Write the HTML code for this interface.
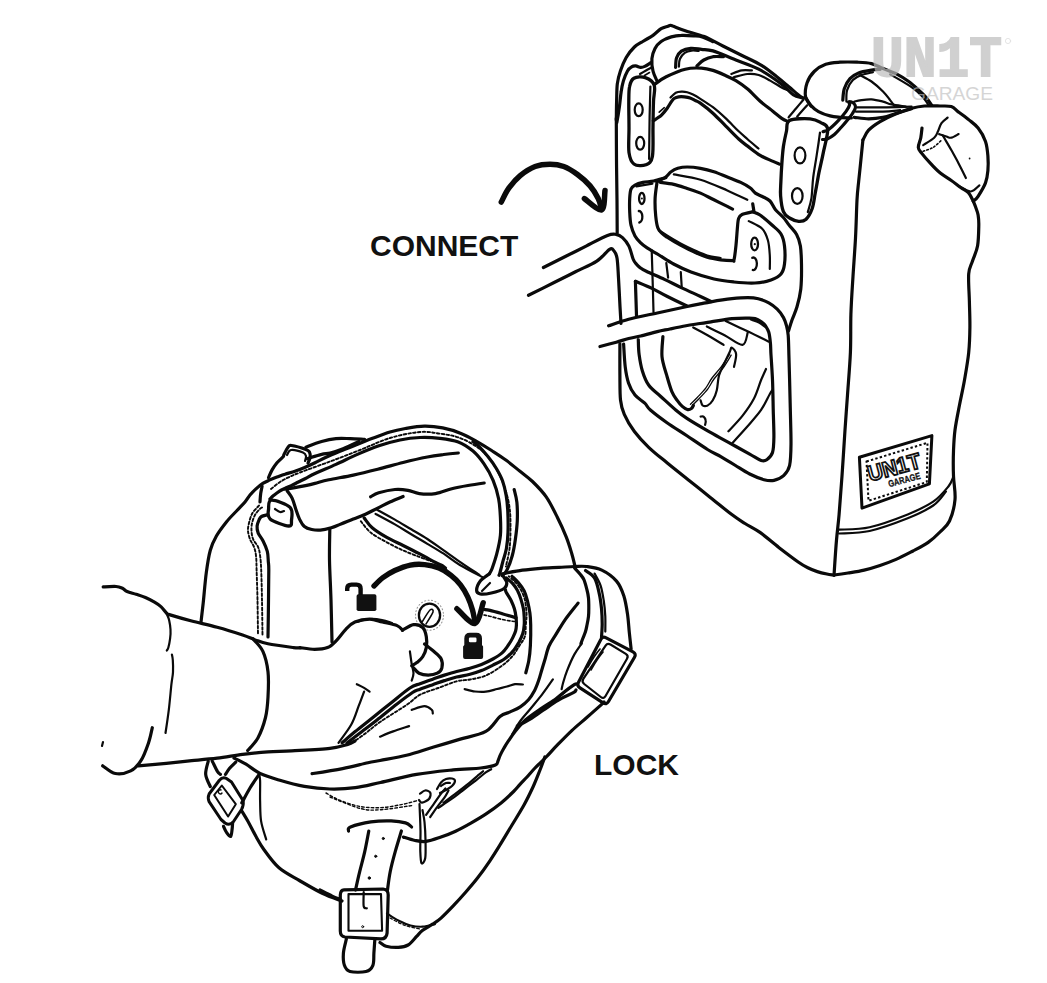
<!DOCTYPE html>
<html><head><meta charset="utf-8">
<style>
html,body{margin:0;padding:0;background:#fff;}
body{width:1047px;height:983px;overflow:hidden;position:relative;font-family:"Liberation Sans",sans-serif;}
svg{position:absolute;left:0;top:0;}
.lbl{position:absolute;font-weight:bold;font-size:30px;color:#111;line-height:1;white-space:nowrap;}
path,circle,ellipse,line,polyline,polygon{fill:none;stroke:#0a0a0a;stroke-linecap:round;stroke-linejoin:round;}
</style></head><body>
<svg width="1047" height="983" viewBox="0 0 1047 983">
<path d="M 616.3 120.0 C 616.4 117.0, 616.4 107.7, 616.6 101.7 C 616.8 95.7, 616.7 89.1, 617.3 83.9 C 618.0 78.8, 618.9 75.4, 620.4 71.0 C 621.9 66.5, 623.9 61.5, 626.2 57.5 C 628.6 53.5, 631.6 49.7, 634.4 47.0 C 637.1 44.4, 639.7 43.4, 642.8 41.5 C 645.9 39.5, 649.9 37.5, 653.0 35.4 C 656.0 33.2, 658.6 30.3, 661.1 28.7 C 663.6 27.2, 666.4 26.8, 668.0 26.2 C 669.5 25.6, 669.4 25.3, 670.2 25.3 C 671.1 25.3, 670.4 25.2, 672.8 26.1 C 675.2 26.9, 679.2 28.8, 684.5 30.5 C 689.7 32.3, 697.8 34.0, 704.3 36.6 C 710.8 39.3, 717.0 43.1, 723.4 46.3 C 729.8 49.5, 736.1 52.5, 742.5 55.7 C 748.8 58.9, 755.8 61.8, 761.5 65.4 C 767.3 68.9, 772.3 73.3, 776.8 76.8 C 781.3 80.3, 784.7 83.3, 788.5 86.5 C 792.3 89.6, 797.2 94.0, 799.7 95.9 C 802.2 97.8, 802.9 97.6, 803.5 97.9" stroke-width="3.20"/>
<path d="M 616.8 122.6 C 617.3 120.0, 618.7 112.0, 619.4 106.8 C 620.1 101.6, 620.5 95.9, 621.2 91.6 C 621.8 87.2, 622.4 84.3, 623.4 80.9 C 624.5 77.4, 626.2 73.3, 627.5 71.0 C 628.9 68.6, 630.2 67.7, 631.6 66.9 C 632.9 66.0, 634.1 65.8, 635.7 65.9 C 637.2 66.0, 639.2 67.3, 640.7 67.4 C 642.3 67.5, 643.1 67.2, 644.8 66.4 C 646.5 65.6, 649.9 63.2, 650.9 62.6" stroke-width="3.20"/>
<path d="M 657.0 80.9 C 656.3 79.2, 653.8 74.6, 653.0 71.0 C 652.1 67.3, 651.6 62.5, 651.9 58.7 C 652.3 55.0, 653.5 51.5, 655.0 48.6 C 656.5 45.7, 658.4 43.4, 661.1 41.5 C 663.8 39.5, 667.9 37.9, 671.3 36.9 C 674.7 35.9, 677.7 35.5, 681.4 35.4 C 685.2 35.2, 690.2 35.6, 693.6 35.9 C 697.1 36.1, 699.1 35.9, 702.3 36.9 C 705.5 37.9, 711.2 40.9, 713.0 41.7" stroke-width="3.20"/>
<path d="M 675.6 67.4 C 675.8 65.8, 675.6 60.4, 676.6 57.7 C 677.6 55.0, 679.1 52.7, 681.4 51.1 C 683.8 49.6, 687.5 48.6, 690.8 48.3 C 694.2 48.0, 697.8 48.9, 701.5 49.3 C 705.2 49.8, 707.2 49.1, 713.0 50.9 C 718.7 52.6, 728.2 57.0, 735.9 60.0 C 743.5 63.1, 751.1 65.1, 758.7 69.2 C 766.4 73.2, 775.9 79.9, 781.6 84.2 C 787.4 88.4, 789.7 92.3, 793.1 94.6 C 796.5 96.9, 800.7 97.4, 802.2 97.9" stroke-width="3.20"/>
<path d="M 678.9 66.6 C 679.1 65.4, 678.9 61.3, 679.9 59.0 C 680.9 56.7, 682.8 54.3, 684.7 52.9 C 686.7 51.5, 689.3 50.9, 691.6 50.6 C 693.9 50.3, 697.5 50.8, 698.7 50.9" stroke-width="2.20"/>
<path d="M 696.9 65.9 C 698.1 64.9, 701.1 61.5, 703.8 60.0 C 706.5 58.5, 709.7 57.3, 713.0 56.7 C 716.2 56.2, 721.7 56.7, 723.4 56.7" stroke-width="3.20"/>
<path d="M 654.5 84.4 C 656.4 83.2, 661.0 79.3, 666.2 76.8 C 671.3 74.3, 679.4 70.6, 685.3 69.2 C 691.1 67.7, 696.9 67.9, 701.5 68.2 C 706.1 68.4, 709.2 69.3, 713.0 70.4 C 716.8 71.6, 720.6 73.3, 724.4 75.0 C 728.2 76.7, 732.0 78.3, 735.9 80.6 C 739.7 82.9, 743.2 85.3, 747.3 88.8 C 751.4 92.2, 755.9 97.4, 760.2 101.2 C 764.5 105.0, 769.5 108.6, 773.1 111.5 C 776.7 114.4, 779.2 116.7, 781.7 118.4 C 784.2 120.1, 786.9 121.0, 788.0 121.5" stroke-width="3.20"/>
<path d="M 731.3 74.0 C 733.0 73.4, 738.3 71.0, 741.7 70.4 C 745.1 69.9, 750.2 70.4, 751.9 70.4" stroke-width="2.20"/>
<path d="M 733.6 77.3 C 735.9 76.8, 743.1 74.4, 747.3 74.0 C 751.5 73.6, 754.9 73.9, 758.7 75.0 C 762.6 76.1, 766.4 78.5, 770.2 80.6 C 774.0 82.7, 778.8 85.9, 781.6 87.5 C 784.5 89.1, 786.5 89.6, 787.5 90.0" stroke-width="2.20"/>
<path d="M 653.4 120.8 C 654.1 120.3, 656.1 119.0, 657.5 118.0 C 658.9 117.0, 659.9 116.7, 661.5 115.1 C 663.1 113.5, 665.6 110.4, 667.2 108.2 C 668.8 106.0, 670.1 103.5, 671.2 101.9 C 672.4 100.3, 672.9 99.3, 674.1 98.5 C 675.4 97.7, 677.0 97.1, 678.7 96.8 C 680.4 96.5, 682.5 96.6, 684.4 96.8 C 686.3 97.0, 688.2 97.2, 690.1 97.9 C 692.0 98.6, 694.1 100.0, 695.8 100.8 C 697.4 101.6, 697.1 100.8, 700.0 102.9 C 702.9 105.0, 708.6 109.3, 712.9 113.2 C 717.2 117.1, 721.5 121.8, 725.8 126.1 C 730.1 130.4, 735.1 135.7, 738.7 139.0 C 742.3 142.3, 743.7 143.2, 747.3 145.9 C 750.9 148.6, 755.9 152.8, 760.2 155.4 C 764.5 158.0, 769.9 159.9, 773.1 161.4 C 776.3 162.9, 778.4 163.7, 779.5 164.2" stroke-width="3.20"/>
<path d="M 670.5 97.5 C 671.4 96.7, 674.0 93.8, 675.8 92.8 C 677.6 91.8, 679.6 91.7, 681.5 91.6 C 683.4 91.5, 685.3 91.7, 687.2 92.2 C 689.1 92.7, 690.9 93.4, 693.0 94.5 C 695.1 95.6, 696.7 96.5, 700.0 98.6 C 703.3 100.7, 708.6 103.9, 712.9 107.2 C 717.2 110.5, 721.5 114.4, 725.8 118.4 C 730.1 122.4, 735.1 127.9, 738.7 131.3 C 742.3 134.7, 744.0 136.1, 747.3 139.0 C 750.6 141.9, 756.6 146.9, 758.5 148.5" stroke-width="2.20"/>
<path d="M 659.2 112.2 L 664.3 107.7" stroke-width="1.60"/>
<path d="M 654.2 85.2 C 652.9 81.2, 648.7 78.7, 645.3 77.6 C 641.9 76.4, 636.5 76.8, 633.9 78.3 C 631.2 79.8, 630.4 82.6, 629.6 86.5 C 628.7 90.4, 628.9 94.9, 628.8 101.7 C 628.7 108.5, 629.0 118.7, 629.0 127.2 C 629.1 135.6, 628.2 146.4, 629.0 152.6 C 629.9 158.7, 631.1 162.0, 633.9 164.0 C 636.7 166.1, 642.7 166.1, 645.8 164.8 C 648.9 163.5, 651.3 162.7, 652.4 156.4 C 653.6 150.1, 652.8 136.3, 653.0 127.2 C 653.1 118.0, 653.2 108.7, 653.5 101.7 C 653.7 94.7, 655.6 89.2, 654.2 85.2 Z" stroke-width="3.30"/>
<path d="M 650.4 86.5 C 650.3 91.6, 649.9 104.9, 649.6 117.0 C 649.4 129.1, 649.2 152.0, 649.1 159.0" stroke-width="2.20"/>
<ellipse cx="638.7" cy="109.8" rx="4" ry="6.4" stroke-width="2.2"/>
<ellipse cx="640.2" cy="143.3" rx="4" ry="6.4" stroke-width="2.2"/>
<path d="M 789.5 120.5 C 793.5 118.5, 804.9 118.4, 810.1 118.8 C 815.3 119.1, 817.9 120.8, 820.8 122.6 C 823.7 124.3, 827.2 124.2, 827.7 129.2 C 828.1 134.2, 824.8 145.4, 823.3 152.6 C 821.9 159.8, 820.4 165.6, 819.0 172.4 C 817.7 179.2, 816.4 187.3, 815.2 193.3 C 814.1 199.3, 813.7 204.2, 812.2 208.5 C 810.6 212.9, 808.3 217.1, 806.1 219.2 C 803.8 221.3, 801.4 221.5, 798.7 221.3 C 795.9 221.0, 792.1 219.6, 789.5 218.0 C 787.0 216.3, 784.9 215.3, 783.4 211.6 C 781.9 207.9, 781.0 200.9, 780.6 195.8 C 780.2 190.7, 780.7 186.6, 780.9 181.1 C 781.1 175.6, 781.5 168.5, 781.9 162.8 C 782.3 157.0, 782.7 151.8, 783.4 146.5 C 784.2 141.2, 785.5 135.3, 786.5 131.0 C 787.5 126.7, 785.6 122.6, 789.5 120.5 Z" stroke-width="3.30"/>
<path d="M 820.0 132.5 C 819.5 136.3, 817.9 147.6, 816.7 155.1 C 815.6 162.6, 814.1 170.3, 813.2 177.5 C 812.3 184.7, 812.3 192.6, 811.4 198.4 C 810.5 204.1, 808.4 209.8, 807.8 212.1" stroke-width="2.20"/>
<ellipse cx="800" cy="155.4" rx="5.4" ry="8" stroke-width="2.2"/>
<ellipse cx="797.3" cy="196" rx="5.3" ry="7.8" stroke-width="2.2"/>
<path d="M 640.0 74.0 C 641.0 73.4, 644.1 71.6, 646.0 70.5 C 647.9 69.4, 650.6 68.0, 651.5 67.5" stroke-width="2.20"/>
<path d="M 644.5 75.5 L 649.5 72.5" stroke-width="1.60"/>
<path d="M 811.0 106.0 C 810.1 104.5, 806.3 100.8, 805.6 97.0 C 804.9 93.2, 805.6 87.2, 807.0 83.0 C 808.4 78.8, 811.1 74.6, 814.2 71.5 C 817.3 68.4, 821.4 65.8, 825.7 64.3 C 830.0 62.8, 834.8 62.6, 840.0 62.2 C 845.2 61.9, 852.0 62.0, 857.2 62.2 C 862.5 62.4, 867.2 62.5, 871.5 63.6 C 875.8 64.7, 878.7 66.8, 883.0 68.6 C 887.3 70.4, 893.0 72.2, 897.3 74.4 C 901.6 76.6, 905.1 78.9, 908.7 81.5 C 912.3 84.1, 915.9 87.5, 918.8 90.1 C 921.7 92.7, 923.9 94.8, 926.0 97.3 C 928.1 99.8, 930.8 103.9, 931.7 105.2" stroke-width="3.20"/>
<path d="M 890.1 74.4 C 891.8 75.4, 896.6 78.0, 900.2 80.1 C 903.8 82.2, 908.0 84.6, 911.6 87.2 C 915.2 89.8, 918.7 92.8, 921.6 95.8 C 924.5 98.8, 927.6 103.6, 928.8 105.2" stroke-width="2.20"/>
<path d="M 805.6 97.3 C 806.5 98.7, 809.1 103.5, 811.3 105.9 C 813.4 108.3, 815.4 109.9, 818.5 111.6 C 821.6 113.3, 826.4 115.0, 830.0 115.9 C 833.6 116.9, 836.4 117.0, 840.0 117.3 C 843.6 117.6, 849.5 117.9, 851.4 118.0" stroke-width="3.20"/>
<path d="M 842.8 100.1 C 843.0 98.2, 843.1 92.3, 844.3 88.7 C 845.5 85.1, 847.6 81.3, 850.0 78.7 C 852.4 76.1, 855.0 74.3, 858.6 72.9 C 862.2 71.5, 867.9 70.7, 871.5 70.1 C 875.1 69.5, 878.7 69.4, 880.1 69.3" stroke-width="3.20"/>
<path d="M 846.4 101.6 C 846.5 99.7, 846.0 93.7, 847.1 90.1 C 848.2 86.5, 850.5 82.6, 852.9 80.1 C 855.3 77.6, 858.2 76.4, 861.5 75.1 C 864.8 73.8, 871.0 72.7, 872.9 72.2" stroke-width="2.20"/>
<path d="M 850.0 101.6 C 850.7 101.9, 853.1 102.5, 854.0 103.5 C 854.9 104.5, 855.8 105.8, 855.5 107.5 C 855.2 109.2, 853.8 111.4, 852.5 113.5 C 851.2 115.6, 849.3 117.8, 847.5 120.0 C 845.7 122.2, 843.7 124.6, 841.5 127.0 C 839.3 129.4, 836.8 132.5, 834.4 134.5 C 832.0 136.5, 829.3 138.1, 827.3 138.9 C 825.3 139.7, 823.3 139.4, 822.5 139.5" stroke-width="3.20"/>
<path d="M 823.0 131.7 C 824.0 131.3, 826.3 131.2, 828.7 129.5 C 831.1 127.8, 834.4 124.7, 837.3 121.7 C 840.2 118.7, 843.9 114.3, 845.9 111.6 C 847.9 108.8, 849.1 106.8, 849.5 105.2 C 849.9 103.6, 848.7 102.5, 848.5 102.0" stroke-width="3.20"/>
<path d="M 788.6 117.4 C 789.8 115.9, 793.5 111.5, 796.0 108.5 C 798.5 105.5, 802.3 101.0, 803.6 99.5" stroke-width="2.20"/>
<path d="M 797.2 116.6 C 798.0 115.7, 800.3 112.9, 802.0 111.0 C 803.7 109.1, 806.3 106.2, 807.2 105.2" stroke-width="2.20"/>
<path d="M 860.0 75.1 C 861.9 76.2, 867.7 78.8, 871.5 81.5 C 875.3 84.2, 879.9 88.4, 883.0 91.5 C 886.1 94.6, 888.2 97.7, 890.1 100.1 C 892.0 102.5, 893.7 104.9, 894.4 105.9" stroke-width="2.20"/>
<path d="M 854.3 101.6 C 855.5 101.3, 858.6 100.5, 861.5 100.1 C 864.4 99.7, 867.9 99.2, 871.5 99.4 C 875.1 99.7, 879.6 100.8, 883.0 101.6 C 886.4 102.4, 887.8 103.6, 891.6 104.4 C 895.4 105.2, 903.5 106.2, 905.9 106.6" stroke-width="2.20"/>
<path d="M 857.2 107.3 C 861.5 107.3, 873.9 107.4, 883.0 107.3 C 892.1 107.2, 906.8 106.7, 911.6 106.6" stroke-width="2.20"/>
<path d="M 855.7 111.6 C 860.2 111.6, 875.6 111.8, 883.0 111.6 C 890.4 111.4, 897.3 110.4, 900.2 110.2" stroke-width="2.20"/>
<path d="M 854.3 117.3 C 856.7 117.5, 863.8 118.8, 868.6 118.8 C 873.4 118.8, 878.2 118.3, 883.0 117.3 C 887.8 116.3, 892.5 114.4, 897.3 113.0 C 902.1 111.6, 909.2 109.4, 911.6 108.7" stroke-width="3.20"/>
<path d="M 862.9 140.0 C 863.9 138.4, 865.7 133.3, 868.6 130.2 C 871.5 127.1, 875.8 124.2, 880.1 121.6 C 884.4 119.0, 889.1 116.7, 894.4 114.5 C 899.6 112.3, 906.6 109.7, 911.6 108.3 C 916.6 106.9, 919.7 106.4, 924.4 106.0 C 929.1 105.6, 935.5 105.9, 940.0 106.0 C 944.5 106.1, 948.2 105.6, 951.3 106.6 C 954.4 107.6, 955.8 110.0, 958.6 112.1 C 961.5 114.2, 965.1 116.8, 968.4 119.4 C 971.6 122.1, 975.2 124.3, 978.1 128.0 C 981.0 131.7, 983.9 136.7, 985.5 141.4 C 987.1 146.1, 987.5 151.1, 987.9 156.0 C 988.3 160.9, 988.3 166.2, 987.9 170.7 C 987.5 175.2, 987.1 178.6, 985.5 182.9 C 983.9 187.2, 980.1 193.2, 978.1 196.3 C 976.1 199.4, 974.1 200.4, 973.3 201.2" stroke-width="3.20"/>
<path d="M 973.3 201.2 C 973.7 202.2, 974.9 205.0, 975.7 207.3 C 976.5 209.6, 977.6 212.0, 978.1 215.0 C 978.6 218.0, 978.9 220.3, 978.8 225.4 C 978.7 230.5, 978.6 239.9, 977.6 245.8 C 976.6 251.7, 974.0 256.3, 972.5 261.0 C 971.0 265.7, 969.2 267.0, 968.7 273.8 C 968.2 280.6, 969.2 292.8, 969.4 301.7 C 969.6 310.6, 970.0 318.7, 969.9 327.2 C 969.8 335.7, 969.6 343.8, 968.7 352.6 C 967.8 361.4, 966.0 371.3, 964.5 380.0 C 963.0 388.7, 961.1 396.7, 959.5 405.0 C 957.9 413.3, 956.0 422.3, 955.0 430.0 C 954.0 437.7, 953.8 443.3, 953.5 451.0 C 953.2 458.7, 953.2 467.9, 953.5 476.0 C 953.8 484.1, 955.7 492.1, 955.0 499.6 C 954.3 507.1, 952.0 515.6, 949.5 521.0 C 947.0 526.4, 943.5 528.4, 940.0 532.0 C 936.5 535.6, 932.7 539.2, 928.2 542.4 C 923.7 545.6, 918.4 548.2, 913.0 551.0 C 907.6 553.8, 901.6 557.0, 896.1 559.4 C 890.6 561.8, 885.3 563.7, 880.0 565.5 C 874.7 567.3, 869.4 568.9, 864.1 570.1 C 858.8 571.4, 853.0 572.2, 848.0 573.0 C 843.0 573.8, 836.3 574.7, 834.0 575.0" stroke-width="3.20"/>
<path d="M 862.9 140.0 C 862.5 144.0, 861.2 157.0, 860.5 163.8 C 859.8 170.7, 859.3 175.1, 858.7 181.1 C 858.1 187.1, 857.5 190.5, 857.0 200.0 C 856.5 209.5, 856.2 225.4, 855.5 238.1 C 854.8 250.8, 853.8 263.6, 853.0 276.3 C 852.2 289.0, 851.3 301.7, 850.9 314.4 C 850.5 327.1, 851.0 339.2, 850.4 352.6 C 849.8 366.0, 848.4 382.1, 847.5 395.0 C 846.6 407.9, 845.9 416.5, 845.0 430.0 C 844.1 443.5, 843.0 461.9, 842.0 476.0 C 841.0 490.1, 840.0 503.7, 839.1 514.4 C 838.2 525.1, 837.4 529.8, 836.5 540.0 C 835.6 550.2, 834.4 569.6, 834.0 575.5" stroke-width="3.20"/>
<path d="M 922.0 128.0 C 921.8 129.6, 921.4 134.4, 920.8 137.7 C 920.2 140.9, 918.1 144.8, 918.3 147.5 C 918.5 150.2, 920.0 150.9, 922.0 153.6 C 924.0 156.2, 927.5 160.2, 930.5 163.4 C 933.5 166.7, 936.8 170.2, 940.3 173.1 C 943.8 175.9, 947.8 178.1, 951.3 180.5 C 954.8 182.9, 958.1 185.8, 961.0 187.8 C 963.9 189.8, 966.4 190.5, 968.4 192.7 C 970.4 194.9, 972.5 199.8, 973.3 201.2" stroke-width="3.20"/>
<path d="M 947.6 117.6 C 946.6 118.5, 943.1 120.8, 941.5 123.1 C 939.9 125.4, 939.1 129.2, 937.9 131.6 C 936.7 134.0, 936.7 135.4, 934.2 137.7 C 931.8 139.9, 925.0 143.9, 923.2 145.1" stroke-width="2.20"/>
<path d="M 939.1 134.1 C 940.3 134.5, 944.4 135.9, 946.4 136.5 C 948.4 137.1, 949.3 138.1, 951.3 137.7 C 953.3 137.3, 957.4 134.7, 958.6 134.1" stroke-width="2.20"/>
<path d="M 942.7 135.3 C 944.1 137.8, 948.6 145.3, 951.3 150.0 C 953.9 154.7, 956.2 158.7, 958.6 163.4 C 961.0 168.1, 964.7 175.6, 965.9 178.0" stroke-width="2.20"/>
<path d="M 923.2 151.2 C 924.8 150.6, 930.0 149.3, 933.0 147.5 C 936.0 145.7, 940.1 141.4, 941.5 140.2" stroke-width="1.60" stroke-dasharray="1.6 2.2"/>
<circle cx="969.6" cy="158.5" r="0.9" style="fill:#111;stroke:none"/>
<path d="M 959.8 186.6 C 961.6 187.4, 967.5 191.7, 970.8 191.5 C 974.1 191.3, 978.0 186.4, 979.4 185.4" stroke-width="2.20"/>
<path d="M 839.1 529.7 C 844.2 529.3, 858.2 529.8, 869.6 527.2 C 881.0 524.7, 897.1 518.6, 907.7 514.4 C 918.3 510.1, 926.4 506.3, 933.2 501.7 C 940.0 497.1, 945.0 490.7, 948.4 486.5 C 951.8 482.3, 952.6 478.0, 953.5 476.3" stroke-width="2.20"/>
<path d="M 839.1 533.5 C 844.2 533.1, 858.2 533.5, 869.6 531.0 C 881.0 528.5, 897.1 522.5, 907.7 518.3 C 918.3 514.0, 926.8 509.9, 933.2 505.5 C 939.6 501.1, 943.8 493.9, 945.9 491.6" stroke-width="2.20"/>
<polygon points="859.4,457.2 931.9,435.6 929.4,483.9 862,508.1" style="fill:none" stroke-width="3"/>
<polygon points="866.5,461.5 927.5,442.8 926.8,482 868.5,500.8" style="fill:none;stroke-width:2px;stroke-linecap:butt" stroke-dasharray="2.4 2.2"/>
<g transform="translate(870,481.5) rotate(-15)"><text x="0" y="0" font-family="Liberation Sans" font-weight="bold" font-size="22" style="fill:#fff;stroke:#111;stroke-width:1.8px" textLength="54" lengthAdjust="spacingAndGlyphs">UN1T</text><text x="17" y="10.5" font-family="Liberation Sans" font-weight="bold" font-size="9.5" style="fill:#111;stroke:#111;stroke-width:0.3px" textLength="33" lengthAdjust="spacingAndGlyphs">GARAGE</text></g>
<path d="M 657.1 181.7 C 656.8 184.5, 655.3 192.7, 655.1 198.4 C 654.9 204.1, 655.2 210.9, 655.7 215.8 C 656.2 220.7, 656.8 224.9, 657.8 227.8 C 658.8 230.7, 660.2 231.6, 661.8 233.2 C 663.3 234.8, 664.0 235.2, 667.1 237.2 C 670.2 239.2, 676.0 242.8, 680.5 245.2 C 685.0 247.6, 689.4 249.9, 693.9 251.9 C 698.4 253.9, 702.8 256.0, 707.2 257.3 C 711.7 258.6, 716.4 259.3, 720.6 259.9 C 724.8 260.4, 730.4 260.6, 732.6 260.6 C 734.8 260.6, 733.4 262.5, 734.0 259.9 C 734.6 257.3, 735.5 250.3, 736.0 245.2 C 736.5 240.1, 736.9 233.6, 737.3 229.2 C 737.7 224.8, 737.8 220.9, 738.6 218.5 C 739.4 216.1, 739.6 215.6, 742.0 214.5 C 744.4 213.4, 750.9 212.2, 752.7 211.8" stroke-width="3.20"/>
<path d="M 659.1 230.5 C 660.4 231.3, 663.4 233.3, 667.0 235.5 C 670.6 237.7, 676.0 241.1, 680.5 243.5 C 685.0 245.9, 689.4 248.0, 693.9 250.0 C 698.4 252.0, 702.8 254.2, 707.2 255.5 C 711.7 256.8, 718.4 257.6, 720.6 258.0" stroke-width="2.20"/>
<path d="M 660.4 182.4 C 662.6 182.7, 669.3 183.4, 673.8 184.4 C 678.3 185.4, 682.8 187.0, 687.2 188.4 C 691.7 189.8, 696.0 191.2, 700.5 193.1 C 705.0 195.0, 709.4 197.6, 713.9 199.8 C 718.4 202.0, 724.2 204.9, 727.3 206.4 C 730.4 207.9, 731.7 208.7, 732.6 209.1" stroke-width="3.20"/>
<path d="M 657.1 181.7 C 658.5 180.9, 663.5 178.7, 665.8 177.0 C 668.1 175.3, 669.1 173.1, 671.1 171.7 C 673.1 170.2, 675.1 169.1, 677.8 168.3 C 680.5 167.5, 683.4 167.0, 687.2 167.0 C 691.0 167.0, 696.0 167.5, 700.5 168.3 C 705.0 169.1, 709.4 170.2, 713.9 171.7 C 718.4 173.1, 722.8 175.2, 727.3 177.0 C 731.8 178.8, 736.9 180.6, 740.7 182.4 C 744.5 184.2, 747.5 185.9, 750.0 187.7 C 752.5 189.5, 753.4 191.6, 755.4 193.1 C 757.4 194.6, 759.9 195.2, 762.3 196.5 C 764.7 197.8, 767.8 198.8, 770.0 201.0 C 772.2 203.2, 773.3 207.0, 775.5 209.7 C 777.7 212.4, 781.0 214.8, 783.2 217.3 C 785.4 219.8, 786.7 222.0, 788.9 224.9 C 791.1 227.8, 794.7 231.0, 796.6 234.5 C 798.5 238.0, 799.6 240.9, 800.4 246.0 C 801.2 251.1, 801.4 257.8, 801.5 265.0 C 801.6 272.2, 801.5 282.0, 800.8 289.0 C 800.0 296.0, 798.5 301.6, 797.0 306.8 C 795.5 312.0, 793.4 316.0, 792.0 320.0 C 790.6 324.0, 789.1 329.2, 788.5 331.0" stroke-width="3.20"/>
<path d="M 752.7 203.8 L 754.0 211.8" stroke-width="3.20"/>
<path d="M 673.8 174.4 C 678.2 175.3, 691.6 177.0, 700.5 179.7 C 709.4 182.4, 719.5 187.1, 727.3 190.4 C 735.1 193.8, 744.0 198.2, 747.3 199.8" stroke-width="2.20"/>
<path d="M 665.8 177.7 C 663.8 178.2, 657.5 180.2, 653.7 181.0 C 649.9 181.8, 646.1 181.7, 643.0 182.4 C 639.9 183.1, 637.0 184.0, 635.0 185.1 C 633.0 186.2, 631.9 186.9, 631.0 189.1 C 630.1 191.3, 629.9 194.6, 629.7 198.4 C 629.5 202.2, 629.5 207.3, 629.7 211.8 C 629.9 216.3, 630.1 221.2, 631.0 225.2 C 631.9 229.2, 633.4 233.0, 635.0 235.9 C 636.6 238.8, 638.4 240.6, 640.4 242.6 C 642.4 244.6, 644.0 245.8, 647.1 247.9 C 650.2 250.0, 654.6 252.3, 659.0 255.0 C 663.4 257.7, 668.3 261.2, 673.6 264.0 C 678.9 266.8, 684.3 269.5, 691.0 272.0 C 697.7 274.5, 706.8 277.3, 714.0 279.0 C 721.2 280.7, 727.2 281.3, 734.0 282.0 C 740.8 282.7, 748.8 283.3, 755.0 283.0 C 761.2 282.7, 766.7 281.5, 771.0 280.0 C 775.3 278.5, 778.8 276.7, 781.0 274.0 C 783.2 271.3, 783.9 268.7, 784.5 264.0 C 785.1 259.3, 785.1 251.0, 784.5 246.0 C 783.9 241.0, 783.1 237.5, 781.0 234.0 C 778.9 230.5, 775.5 228.2, 772.0 225.0 C 768.5 221.8, 763.2 217.2, 760.0 215.0 C 756.8 212.8, 753.9 212.3, 752.7 211.8" stroke-width="3.20"/>
<path d="M 636.4 186.4 L 652.4 183.7" stroke-width="2.20"/>
<path d="M 748.8 221.1 C 751.0 222.4, 759.0 225.6, 762.2 228.8 C 765.4 232.0, 766.6 235.8, 767.9 240.2 C 769.2 244.6, 769.5 250.7, 769.8 255.5 C 770.1 260.3, 769.8 266.7, 769.8 268.9" stroke-width="2.20"/>
<ellipse cx="641.8" cy="198.4" rx="2.7" ry="5.6" stroke-width="2.3"/><circle cx="641.9" cy="198.6" r="1" style="fill:#111;stroke:none"/>
<path d="M 638.8 211 A 3.2 5.6 0 1 1 639.3 222.5" stroke-width="2.3"/>
<ellipse cx="754.6" cy="244" rx="3.4" ry="6.3" stroke-width="2.3"/><circle cx="754.8" cy="244.2" r="1.1" style="fill:#111;stroke:none"/>
<path d="M 752.3 257.8 A 3.5 6.3 0 1 1 752.8 270" stroke-width="2.3"/>
<path d="M 651.7 250.4 C 651.9 255.2, 652.3 269.1, 652.6 279.4 C 652.9 289.7, 653.4 306.7, 653.5 312.1" stroke-width="2.20"/>
<path d="M 666.3 263.1 L 668.1 277.6" stroke-width="2.20"/>
<path d="M 680.8 272.2 L 681.7 286.7" stroke-width="2.20"/>
<path d="M 543.4 267.5 C 547.0 265.7, 557.7 260.4, 564.8 256.8 C 571.9 253.2, 579.0 249.7, 586.1 246.1 C 593.2 242.5, 602.5 237.4, 607.5 235.5 C 612.5 233.6, 613.5 234.1, 616.0 234.4 C 618.5 234.8, 620.4 235.7, 622.5 237.6 C 624.6 239.5, 627.1 242.5, 628.9 246.1 C 630.7 249.7, 631.9 256.0, 633.1 259.0 C 634.3 262.0, 635.1 262.6, 636.3 264.0 C 637.4 265.4, 638.3 266.4, 640.0 267.6 C 641.7 268.8, 642.2 269.3, 646.3 271.3 C 650.4 273.3, 658.6 276.7, 664.4 279.4 C 670.2 282.1, 675.3 284.8, 681.2 287.6 C 687.1 290.4, 695.0 293.9, 700.0 296.2 C 705.0 298.5, 709.2 300.6, 711.0 301.5" stroke-width="3.20"/>
<path d="M 528.5 295.3 C 532.8 293.2, 546.3 286.4, 554.1 282.5 C 561.9 278.6, 568.4 275.4, 575.5 271.8 C 582.6 268.2, 591.1 264.9, 596.8 261.1 C 602.5 257.4, 606.7 251.0, 609.6 249.3 C 612.5 247.6, 612.8 249.6, 614.0 251.0 C 615.2 252.4, 616.2 253.5, 617.0 258.0 C 617.8 262.5, 618.0 269.9, 618.5 278.0 C 619.0 286.1, 619.6 299.1, 620.0 306.7 C 620.4 314.3, 620.8 320.7, 621.0 323.5" stroke-width="3.20"/>
<path d="M 616.3 118.0 C 616.3 125.0, 616.4 146.3, 616.5 160.0 C 616.6 173.7, 616.9 187.8, 617.0 200.0 C 617.1 212.2, 617.2 227.5, 617.2 233.0" stroke-width="3.20"/>
<path d="M 635.4 281.3 C 638.2 282.5, 647.2 286.1, 652.5 288.6 C 657.8 291.1, 661.1 293.3, 666.9 296.2 C 672.6 299.1, 683.6 304.4, 687.0 306.0" stroke-width="3.20"/>
<path d="M 635.4 281.3 C 635.5 284.4, 635.8 294.2, 636.0 300.0 C 636.2 305.8, 636.4 313.3, 636.5 316.0" stroke-width="3.20"/>
<path d="M 623.6 344.0 C 623.9 347.8, 624.4 360.1, 625.2 366.6 C 626.0 373.1, 626.9 378.1, 628.5 382.9 C 630.1 387.6, 632.3 391.7, 635.0 395.1 C 637.7 398.5, 642.2 400.7, 644.8 403.2 C 647.4 405.7, 646.7 406.8, 650.4 410.0 C 654.1 413.2, 660.9 418.4, 667.0 422.7 C 673.1 427.0, 680.5 431.5, 687.3 436.0 C 694.0 440.5, 701.9 446.0, 707.5 449.5 C 713.1 453.0, 716.5 454.2, 721.2 456.9 C 725.9 459.6, 730.8 462.6, 735.5 465.5 C 740.2 468.4, 745.0 471.6, 749.7 474.0 C 754.5 476.4, 760.0 478.6, 764.0 479.7 C 768.0 480.8, 770.7 481.1, 774.0 480.4 C 777.3 479.7, 781.3 477.9, 783.9 475.4 C 786.5 472.9, 788.4 470.7, 789.6 465.5 C 790.8 460.3, 790.9 453.6, 791.0 444.1 C 791.1 434.6, 790.5 419.2, 790.3 408.5 C 790.1 397.8, 789.8 388.9, 789.6 380.0 C 789.4 371.1, 789.1 362.4, 788.9 355.0 C 788.7 347.6, 788.6 340.2, 788.2 335.4 C 787.8 330.6, 787.4 329.0, 786.6 326.0 C 785.8 323.0, 785.1 320.4, 783.5 317.6 C 781.9 314.8, 779.7 311.6, 777.2 309.2 C 774.8 306.8, 771.9 304.6, 768.8 302.9 C 765.6 301.1, 761.8 299.6, 758.3 298.7 C 754.8 297.8, 752.2 297.6, 747.8 297.6 C 743.4 297.6, 738.1 298.0, 732.0 298.7 C 725.9 299.4, 716.3 300.9, 711.0 301.8 C 705.7 302.7, 704.2 303.1, 700.0 303.9 C 695.8 304.7, 693.1 305.2, 686.0 306.7 C 678.9 308.2, 666.8 310.9, 657.3 313.0 C 647.8 315.1, 636.8 317.1, 628.7 319.2 C 620.6 321.3, 612.0 324.7, 608.6 325.8" stroke-width="3.20"/>
<path d="M 638.3 339.5 C 638.4 342.0, 638.4 349.2, 639.1 354.4 C 639.8 359.6, 640.7 365.5, 642.3 370.7 C 643.9 375.9, 645.7 381.0, 648.8 385.3 C 651.9 389.6, 656.5 392.6, 661.0 396.7 C 665.5 400.8, 671.3 406.3, 675.7 410.0 C 680.1 413.7, 682.0 415.2, 687.3 418.7 C 692.6 422.2, 700.9 427.0, 707.7 430.9 C 714.5 434.8, 721.0 438.2, 728.0 442.1 C 735.0 446.0, 744.2 451.0, 749.7 454.1 C 755.2 457.2, 758.2 459.6, 761.1 460.5 C 764.0 461.4, 764.9 461.1, 766.8 459.8 C 768.7 458.5, 771.3 456.4, 772.5 452.6 C 773.7 448.8, 773.8 444.4, 773.9 437.0 C 774.0 429.6, 773.4 418.0, 773.2 408.5 C 773.0 399.0, 772.9 388.9, 772.5 380.0 C 772.1 371.1, 771.4 361.2, 771.0 355.0 C 770.6 348.8, 770.8 346.6, 770.4 342.8 C 770.0 339.0, 769.6 335.1, 768.8 332.3 C 768.0 329.5, 766.8 327.8, 765.6 326.0 C 764.4 324.2, 763.1 323.0, 761.4 321.8 C 759.6 320.6, 757.4 319.2, 755.1 318.6 C 752.8 318.0, 751.6 318.1, 747.8 318.1 C 743.9 318.1, 738.1 318.0, 732.0 318.6 C 725.9 319.2, 716.3 321.0, 711.0 321.8 C 705.7 322.6, 704.2 322.8, 700.0 323.5 C 695.8 324.2, 691.0 324.9, 686.0 325.8 C 681.0 326.7, 674.8 328.0, 670.0 329.0 C 665.2 330.0, 662.2 330.4, 657.3 331.6 C 652.4 332.8, 645.5 334.9, 640.7 336.0 C 635.9 337.1, 632.8 337.5, 628.7 338.5 C 624.6 339.5, 621.1 340.9, 616.3 342.2 C 611.5 343.5, 602.7 345.8, 600.0 346.5" stroke-width="3.20"/>
<path d="M 619.9 343.8 C 619.9 349.0, 619.8 365.5, 619.9 374.9 C 620.0 384.3, 619.8 393.4, 620.5 400.0 C 621.2 406.6, 622.0 409.1, 624.3 414.3 C 626.6 419.6, 630.3 426.0, 634.4 431.5 C 638.5 437.0, 643.2 442.1, 648.7 447.3 C 654.2 452.6, 660.6 457.5, 667.3 463.0 C 674.0 468.5, 681.6 474.5, 688.8 480.2 C 696.0 485.9, 703.1 491.7, 710.3 497.4 C 717.5 503.1, 726.0 510.2, 731.8 514.6 C 737.6 519.0, 740.3 520.5, 745.0 523.5 C 749.7 526.5, 754.3 528.4, 760.0 532.4 C 765.7 536.4, 772.7 542.8, 779.1 547.7 C 785.5 552.6, 793.4 558.6, 798.2 562.0 C 803.0 565.4, 804.6 566.2, 807.8 567.8 C 811.0 569.4, 814.1 570.6, 817.3 571.6 C 820.5 572.6, 824.1 573.4, 826.9 574.0 C 829.7 574.6, 832.8 574.8, 834.0 575.0" stroke-width="3.20"/>
<path d="M 693.2 327.5 C 695.7 328.8, 702.9 332.6, 708.0 335.5 C 713.1 338.4, 721.0 343.3, 723.6 344.9" stroke-width="2.20"/>
<path d="M 706.8 326.5 C 709.8 328.0, 719.0 332.4, 725.0 335.5 C 731.0 338.6, 738.7 345.4, 742.5 344.9 C 746.3 344.4, 746.9 334.4, 747.8 332.3" stroke-width="2.20"/>
<path d="M 725.7 321.0 C 729.2 322.7, 739.8 327.6, 747.0 331.0 C 754.2 334.4, 765.2 339.9, 768.8 341.7" stroke-width="2.20"/>
<path d="M 751.0 319.5 C 752.3 320.0, 756.8 321.3, 759.0 322.5 C 761.2 323.7, 763.6 325.8, 764.5 326.5" stroke-width="2.20"/>
<path d="M 662.9 336.5 C 662.8 339.9, 661.4 350.2, 662.0 356.6 C 662.6 363.0, 664.9 369.0, 666.6 374.9 C 668.3 380.8, 670.3 388.0, 672.1 392.2 C 673.9 396.4, 675.5 397.9, 677.2 400.3 C 678.9 402.7, 680.6 404.9, 682.3 406.4 C 684.0 407.9, 685.8 409.1, 687.3 409.5 C 688.8 409.9, 690.4 409.2, 691.4 408.5 C 692.4 407.8, 693.1 405.9, 693.4 405.4" stroke-width="3.20"/>
<path d="M 690.4 404.4 C 691.6 403.2, 695.0 400.0, 697.5 397.3 C 700.0 394.6, 703.3 391.3, 705.7 388.1 C 708.1 384.9, 709.4 381.5, 712.0 378.0 C 714.6 374.5, 718.2 370.9, 721.2 366.9 C 724.2 362.9, 728.3 356.2, 729.7 354.1" stroke-width="1.30"/>
<path d="M 692.4 405.4 C 693.6 404.2, 697.0 401.0, 699.5 398.3 C 702.0 395.6, 705.3 392.3, 707.7 389.1 C 710.1 385.9, 711.4 382.5, 714.0 379.0 C 716.6 375.5, 720.3 371.9, 723.2 367.9 C 726.1 363.9, 729.9 357.2, 731.2 355.1" stroke-width="1.30"/>
<path d="M 700.6 400.3 C 700.9 401.1, 701.4 404.5, 702.6 405.4 C 703.8 406.2, 706.0 406.2, 707.7 405.4 C 709.4 404.5, 711.3 402.8, 712.8 400.3 C 714.3 397.8, 715.8 394.3, 716.8 390.2 C 717.8 386.1, 717.8 379.9, 719.0 375.5 C 720.2 371.1, 722.2 367.9, 724.0 364.0 C 725.8 360.1, 728.4 354.7, 729.7 352.0 C 731.0 349.3, 730.8 347.3, 731.9 347.7 C 733.0 348.1, 735.8 350.9, 736.1 354.1 C 736.5 357.3, 734.4 364.8, 734.0 366.9" stroke-width="2.20"/>
<path d="M 700.6 416.6 C 701.1 416.6, 702.8 415.9, 703.6 416.6 C 704.5 417.3, 705.5 419.3, 705.7 420.7 C 706.0 422.1, 705.2 424.1, 705.1 424.8" stroke-width="2.20"/>
<path d="M 728.4 431.3 C 730.8 428.7, 738.3 421.1, 742.6 415.6 C 746.9 410.1, 750.9 404.4, 754.0 398.5 C 757.1 392.6, 759.1 384.9, 761.1 380.0 C 763.1 375.1, 765.2 370.8, 766.0 369.0" stroke-width="2.20"/>
<path d="M 732.6 442.7 C 735.0 440.1, 742.1 432.5, 746.9 427.0 C 751.6 421.5, 757.3 415.4, 761.1 409.9 C 764.9 404.4, 767.8 397.5, 769.7 394.2 C 771.6 390.9, 772.0 390.7, 772.5 390.0" stroke-width="2.20"/>
<path d="M 501.3 202.0 C 502.6 199.7, 505.6 192.6, 508.8 188.2 C 512.0 183.8, 515.8 179.2, 520.2 175.6 C 524.6 172.0, 530.1 168.4, 535.1 166.5 C 540.1 164.6, 545.2 164.2, 550.0 164.2 C 554.8 164.2, 559.2 164.8, 563.8 166.5 C 568.4 168.2, 573.1 171.3, 577.5 174.5 C 581.9 177.7, 586.6 181.9, 590.1 185.9 C 593.6 189.9, 596.3 194.8, 598.2 198.6 C 600.1 202.4, 600.9 206.8, 601.4 208.5" stroke-width="5.50"/>
<path d="M 584.4 198.6 C 587.3 200.5, 598.2 211.3, 601.6 210.0 C 605.0 208.7, 604.4 193.8, 605.0 190.5" stroke-width="5.50"/>
<path d="M 201.0 622.0 C 201.4 618.8, 202.3 611.2, 203.2 603.0 C 204.1 594.8, 205.1 581.4, 206.3 572.6 C 207.5 563.8, 208.6 556.3, 210.3 550.2 C 212.0 544.1, 213.7 540.8, 216.4 536.0 C 219.1 531.2, 223.2 526.0, 226.6 521.7 C 230.0 517.5, 233.9 513.8, 237.0 510.5 C 240.1 507.2, 242.8 504.6, 245.0 502.0 C 247.2 499.4, 248.2 497.1, 250.0 495.0 C 251.8 492.9, 253.6 491.0, 255.7 489.1 C 257.8 487.2, 260.4 484.9, 262.8 483.4 C 265.2 481.9, 267.6 481.0, 270.0 479.9 C 272.4 478.8, 274.5 477.9, 277.0 477.0 C 279.5 476.1, 281.9 475.1, 284.9 474.2 C 287.9 473.2, 291.7 472.4, 294.9 471.3 C 298.1 470.2, 300.8 469.2, 304.1 467.8 C 307.5 466.4, 310.9 464.8, 315.0 462.8 C 319.1 460.8, 322.9 458.6, 328.8 456.0 C 334.7 453.4, 343.1 450.1, 350.3 447.2 C 357.5 444.3, 365.2 441.1, 371.8 438.6 C 378.4 436.1, 384.4 433.7, 390.0 432.0 C 395.6 430.3, 399.7 429.5, 405.4 428.5 C 411.1 427.5, 418.2 426.2, 424.4 426.1 C 430.6 426.0, 436.6 426.7, 442.7 427.9 C 448.8 429.1, 455.5 431.2, 461.0 433.4 C 466.5 435.5, 470.6 437.9, 475.7 440.8 C 480.8 443.7, 486.5 447.2, 491.6 450.5 C 496.7 453.8, 501.5 456.8, 506.2 460.3 C 510.9 463.8, 515.6 467.8, 520.0 471.3 C 524.4 474.8, 528.1 477.2, 532.5 481.5 C 536.9 485.8, 542.1 491.0, 546.2 496.9 C 550.3 502.8, 553.9 510.3, 557.2 517.0 C 560.6 523.7, 563.9 531.1, 566.3 537.2 C 568.7 543.3, 570.4 549.1, 571.8 553.7 C 573.2 558.3, 574.0 562.3, 574.6 564.7 C 575.2 567.1, 575.4 567.5, 575.5 568.0" stroke-width="3.20"/>
<path d="M 269.9 499.1 C 270.5 498.5, 271.9 496.9, 273.5 495.6 C 275.1 494.3, 277.3 492.5, 279.2 491.3 C 281.1 490.1, 282.9 489.3, 284.9 488.4 C 286.9 487.4, 289.1 486.7, 291.3 485.6 C 293.6 484.5, 296.0 483.2, 298.4 482.0 C 300.8 480.8, 302.7 479.9, 305.5 478.5 C 308.3 477.1, 309.9 475.9, 315.0 473.5 C 320.1 471.1, 328.9 467.6, 336.0 464.4 C 343.1 461.2, 350.2 457.5, 357.4 454.4 C 364.5 451.3, 371.8 448.2, 378.9 445.8 C 386.0 443.4, 393.1 441.4, 400.0 440.0 C 406.9 438.6, 413.3 437.8, 420.0 437.5 C 426.7 437.2, 433.6 437.6, 440.0 438.3 C 446.4 439.1, 452.8 439.9, 458.3 442.0 C 463.8 444.1, 468.7 447.5, 473.0 451.1 C 477.3 454.8, 480.6 459.0, 484.0 463.9 C 487.4 468.8, 490.7 474.6, 493.1 480.4 C 495.5 486.2, 497.4 492.6, 498.6 498.7 C 499.8 504.8, 500.1 510.9, 500.4 517.0 C 500.7 523.1, 501.0 529.3, 500.4 535.4 C 499.8 541.5, 498.2 548.2, 496.8 553.7 C 495.4 559.2, 493.4 564.9, 492.2 568.3 C 491.0 571.6, 489.9 572.9, 489.4 573.8" stroke-width="3.20"/>
<path d="M 271.0 489.0 C 272.5 487.8, 277.0 484.0, 280.0 482.0 C 283.0 480.0, 285.9 478.6, 289.2 477.0 C 292.5 475.4, 293.2 475.1, 300.0 472.5 C 306.8 469.9, 320.0 465.2, 330.0 461.5 C 340.0 457.8, 350.0 453.9, 360.0 450.0 C 370.0 446.1, 380.0 441.0, 390.0 438.0 C 400.0 435.0, 411.7 432.7, 420.0 432.0 C 428.3 431.3, 433.6 432.8, 440.0 433.7 C 446.4 434.6, 452.2 435.2, 458.3 437.4 C 464.4 439.5, 471.4 443.1, 476.6 446.6 C 481.8 450.1, 485.7 454.1, 489.4 458.5 C 493.1 462.9, 495.9 467.6, 498.6 473.1 C 501.4 478.6, 504.1 485.6, 505.9 491.4 C 507.7 497.2, 508.8 502.1, 509.6 507.9 C 510.4 513.7, 510.5 519.5, 510.5 526.2 C 510.5 532.9, 510.4 541.5, 509.6 548.2 C 508.8 554.9, 506.5 563.5, 505.9 566.5" stroke-width="1.90" stroke-dasharray="2.6 2.2" stroke="#333"/>
<path d="M 514.2 489.6 C 514.7 491.7, 516.4 497.2, 516.9 502.4 C 517.4 507.6, 517.5 514.6, 517.3 520.7 C 517.0 526.8, 516.2 533.2, 515.4 539.0 C 514.6 544.8, 513.7 550.3, 512.3 555.5 C 510.9 560.7, 508.5 566.9, 506.8 570.2 C 505.1 573.6, 503.1 574.7, 502.3 575.6" stroke-width="3.20"/>
<path d="M 489.4 573.8 C 487.9 575.0, 482.4 578.4, 480.3 581.1 C 478.2 583.9, 476.6 588.1, 476.6 590.3 C 476.6 592.4, 477.9 593.5, 480.3 594.0 C 482.8 594.5, 487.3 593.9, 491.3 593.0 C 495.3 592.1, 501.5 590.2, 504.1 588.5 C 506.7 586.8, 506.8 584.8, 506.8 583.0 C 506.8 581.2, 504.9 578.7, 504.1 577.5 C 503.4 576.3, 502.6 575.9, 502.3 575.6" stroke-width="3.20"/>
<path d="M 482.0 591.0 L 490.0 583.0" stroke-width="2.20"/>
<path d="M 473.0 441.5 C 474.1 442.4, 476.9 444.4, 479.4 446.9 C 481.9 449.4, 485.0 453.0, 487.9 456.6 C 490.8 460.2, 494.1 464.7, 496.5 468.8 C 498.9 472.9, 501.0 476.5, 502.6 481.0 C 504.2 485.5, 505.3 490.6, 506.2 495.7 C 507.1 500.8, 507.5 505.5, 507.8 511.6 C 508.1 517.7, 508.2 526.1, 508.0 532.2 C 507.8 538.4, 507.2 543.8, 506.4 548.5 C 505.6 553.2, 504.2 556.6, 503.1 560.7 C 502.0 564.8, 500.6 570.5, 499.9 572.9 C 499.2 575.3, 499.1 574.9, 499.0 575.3" stroke-width="3.20"/>
<path d="M 267.3 514.8 C 266.3 515.1, 262.9 515.7, 261.5 516.5 C 260.1 517.3, 259.9 517.9, 259.2 519.5 C 258.5 521.1, 257.3 523.7, 257.1 526.0 C 256.9 528.3, 257.2 530.6, 258.2 533.1 C 259.2 535.6, 261.7 538.2, 263.2 541.2 C 264.7 544.2, 266.4 548.0, 267.3 551.4 C 268.2 554.8, 268.1 558.5, 268.3 561.6 C 268.6 564.7, 268.8 563.6, 268.8 570.0 C 268.8 576.4, 268.6 588.8, 268.5 600.0 C 268.4 611.2, 268.1 630.8, 268.0 637.0" stroke-width="3.20"/>
<path d="M 259.0 505.5 C 258.7 505.9, 258.2 506.2, 257.1 507.6 C 256.0 509.0, 253.4 511.2, 252.1 513.7 C 250.8 516.2, 249.7 520.0, 249.0 522.9 C 248.3 525.8, 247.8 528.3, 248.0 531.0 C 248.2 533.7, 249.0 536.5, 250.0 539.2 C 251.0 541.9, 253.1 544.4, 254.1 547.3 C 255.1 550.2, 255.7 552.7, 256.1 556.5 C 256.5 560.3, 256.4 562.8, 256.6 570.0 C 256.8 577.2, 257.3 589.3, 257.5 600.0 C 257.7 610.7, 257.9 628.3, 258.0 634.0" stroke-width="1.90" stroke-dasharray="2.6 2.2" stroke="#333"/>
<path d="M 262.0 507.5 C 261.7 507.7, 261.3 507.5, 260.2 508.7 C 259.1 509.9, 256.4 512.4, 255.1 514.8 C 253.8 517.2, 252.7 520.2, 252.1 522.9 C 251.5 525.6, 251.3 528.3, 251.5 531.0 C 251.7 533.7, 252.0 536.5, 253.1 539.2 C 254.2 541.9, 257.0 544.4, 258.2 547.3 C 259.4 550.2, 259.7 552.7, 260.2 556.5 C 260.7 560.3, 260.9 562.8, 261.2 570.0 C 261.5 577.2, 261.8 589.2, 262.0 600.0 C 262.2 610.8, 262.4 629.2, 262.5 635.0" stroke-width="1.90" stroke-dasharray="2.6 2.2" stroke="#333"/>
<path d="M 283.7 455.1 C 284.4 453.8, 286.7 448.8, 288.0 447.2 C 289.3 445.6, 288.5 445.1, 291.5 445.5 C 294.5 445.9, 302.9 448.3, 305.9 449.4 C 308.9 450.5, 308.8 450.9, 309.5 452.2 C 310.2 453.5, 310.4 455.4, 310.2 457.2 C 309.9 459.0, 308.4 462.0, 308.0 463.0" stroke-width="3.20"/>
<path d="M 287.0 455.0 C 287.7 454.2, 288.3 450.4, 291.0 450.0 C 293.7 449.6, 300.5 451.5, 303.0 452.5 C 305.5 453.5, 305.7 454.6, 306.0 456.0 C 306.3 457.4, 305.2 460.2, 305.0 461.0" stroke-width="2.20"/>
<path d="M 268.5 477.7 C 269.1 476.4, 270.7 472.4, 272.1 469.9 C 273.5 467.4, 275.1 465.1, 277.0 462.8 C 278.9 460.6, 282.4 457.5, 283.5 456.4" stroke-width="3.20"/>
<path d="M 305.9 447.2 C 308.5 446.2, 316.6 442.9, 321.6 441.5 C 326.6 440.1, 331.2 439.1, 336.0 438.6 C 340.8 438.1, 345.5 438.5, 350.3 438.6 C 355.1 438.7, 362.2 439.2, 364.6 439.3" stroke-width="3.20"/>
<path d="M 307.3 458.7 C 309.7 458.0, 317.8 455.3, 321.6 454.4 C 325.4 453.4, 326.6 453.9, 330.2 453.0 C 333.8 452.1, 338.3 450.6, 343.1 448.7 C 347.9 446.8, 356.3 442.7, 358.9 441.5" stroke-width="3.20"/>
<path d="M 262.1 486.3 C 261.9 487.5, 261.1 490.8, 260.7 493.4 C 260.3 496.0, 260.1 500.6, 260.0 502.0" stroke-width="3.20"/>
<path d="M 284.9 489.1 C 286.6 488.9, 291.5 488.3, 294.9 487.7 C 298.3 487.1, 302.1 486.3, 305.5 485.6 C 308.9 484.9, 311.1 484.4, 315.0 483.4 C 318.9 482.4, 322.4 481.2, 328.8 479.8 C 335.2 478.4, 345.2 476.9, 353.3 475.1 C 361.4 473.4, 369.4 471.4, 377.7 469.3 C 386.0 467.2, 394.8 464.6, 403.1 462.5 C 411.4 460.4, 420.6 458.3, 427.4 457.0 C 434.2 455.7, 438.5 455.2, 443.7 454.5 C 448.9 453.8, 455.9 453.2, 458.3 453.0" stroke-width="3.20"/>
<path d="M 287.3 491.0 C 288.1 492.2, 290.8 495.3, 292.2 498.4 C 293.6 501.5, 294.7 505.9, 295.9 509.4 C 297.1 512.9, 298.1 516.2, 299.5 519.1 C 300.9 522.0, 302.4 524.8, 304.4 526.5 C 306.4 528.2, 309.0 528.9, 311.7 529.5 C 314.4 530.1, 317.0 530.4, 320.3 530.1 C 323.6 529.8, 327.9 528.7, 331.3 527.7 C 334.8 526.7, 337.3 525.4, 341.0 524.0 C 344.7 522.6, 349.2 520.7, 353.3 519.1 C 357.4 517.5, 361.4 516.0, 365.5 514.2 C 369.6 512.4, 373.6 510.1, 377.7 508.1 C 381.8 506.1, 385.7 503.9, 389.9 502.0 C 394.1 500.1, 400.9 497.4, 403.1 496.5" stroke-width="3.20"/>
<path d="M 271.5 500.2 C 275.1 500.0, 286.8 504.0, 290.1 507.4 C 293.4 510.8, 291.7 517.2, 291.5 520.3 C 291.3 523.4, 292.3 526.2, 288.7 526.0 C 285.1 525.8, 273.5 521.8, 270.1 518.9 C 266.8 516.0, 268.4 511.9, 268.6 508.8 C 268.8 505.7, 267.9 500.4, 271.5 500.2 Z" stroke-width="3.30"/>
<path d="M 275.0 509.0 C 275.8 509.5, 278.5 511.7, 280.0 512.0 C 281.5 512.3, 283.3 511.2, 284.0 511.0" stroke-width="2.20"/>
<path d="M 370.6 496.8 C 372.0 496.1, 374.6 494.0, 378.7 492.8 C 382.8 491.6, 390.0 489.9, 394.9 489.5 C 399.8 489.1, 403.8 489.6, 407.9 490.3 C 412.0 491.0, 414.7 493.1, 419.3 493.6 C 423.9 494.2, 430.1 494.4, 435.5 493.6 C 440.9 492.8, 446.4 490.1, 451.8 488.7 C 457.2 487.3, 462.6 486.4, 468.0 485.5 C 473.4 484.6, 481.5 483.4, 484.2 483.0" stroke-width="3.20"/>
<path d="M 377.1 509.8 C 380.1 511.4, 389.2 516.4, 394.9 519.6 C 400.6 522.9, 405.8 526.1, 411.2 529.3 C 416.6 532.5, 422.0 535.5, 427.4 539.0 C 432.8 542.5, 438.3 546.6, 443.7 550.4 C 449.1 554.2, 453.9 557.7, 459.9 561.8 C 465.8 565.9, 476.1 572.6, 479.4 574.8" stroke-width="2.20"/>
<path d="M 375.5 513.9 C 378.7 515.6, 388.9 521.0, 394.9 524.4 C 400.8 527.8, 405.8 531.0, 411.2 534.2 C 416.6 537.5, 422.0 540.6, 427.4 543.9 C 432.8 547.1, 438.3 550.2, 443.7 553.7 C 449.1 557.2, 453.4 561.1, 459.9 565.0 C 466.4 568.9, 478.8 575.2, 482.6 577.2" stroke-width="2.20"/>
<path d="M 364.1 517.9 C 365.5 519.5, 368.4 524.5, 372.2 527.7 C 376.0 531.0, 381.6 534.4, 386.8 537.4 C 392.0 540.4, 397.7 542.8, 403.1 545.5 C 408.5 548.2, 413.9 550.9, 419.3 553.7 C 424.7 556.5, 431.9 560.6, 435.5 562.5 C 439.1 564.4, 439.3 564.1, 441.0 565.0 C 442.7 565.9, 444.8 567.5, 445.5 568.0" stroke-width="3.20"/>
<path d="M 360.8 521.2 C 362.4 523.1, 366.3 529.0, 370.6 532.5 C 374.9 536.0, 381.4 539.3, 386.8 542.3 C 392.2 545.3, 397.7 548.0, 403.1 550.4 C 408.5 552.8, 414.7 555.1, 419.3 556.9 C 423.9 558.7, 428.8 560.3, 430.7 561.0" stroke-width="1.90" stroke-dasharray="2.6 2.2" stroke="#333"/>
<path d="M 329.8 529.0 C 329.8 534.2, 329.3 548.2, 329.5 560.0 C 329.7 571.8, 330.6 586.3, 331.0 600.0 C 331.4 613.7, 331.8 635.0, 332.0 642.0" stroke-width="3.20"/>
<path d="M 374.0 586.0 C 375.5 584.6, 379.4 580.3, 382.9 577.7 C 386.4 575.1, 390.2 572.6, 394.8 570.5 C 399.4 568.4, 405.4 566.1, 410.4 565.1 C 415.4 564.1, 419.9 564.1, 424.7 564.6 C 429.5 565.1, 434.6 566.3, 439.0 568.1 C 443.4 569.9, 447.4 572.5, 451.0 575.3 C 454.6 578.1, 457.7 581.2, 460.5 584.8 C 463.3 588.4, 465.7 592.6, 467.7 596.8 C 469.7 601.0, 471.4 606.0, 472.5 609.9 C 473.6 613.8, 474.2 618.3, 474.6 620.0" stroke-width="5.40"/>
<path d="M 456.9 608.7 C 459.9 611.2, 470.4 624.5, 474.8 623.5 C 479.2 622.5, 481.8 606.2, 483.2 602.8" stroke-width="5.40"/>
<rect x="356.6" y="594.2" width="19.8" height="16.9" rx="1.8" fill="#111" stroke="none"/>
<path d="M 347.2 591 L 347.2 588.8 Q 347.2 584.6 351.5 584.6 L 356.5 584.6 Q 360.6 584.6 360.6 588.8 L 360.6 595" stroke-width="4.4" style="stroke-linecap:butt"/>
<path d="M 463.1 657 L 463.1 646.5 L 464.3 645 L 464.3 638.5 Q 464.3 632.7 470 632.7 L 476.3 632.7 Q 482 632.7 482 638.5 L 482 645 L 483.1 646.5 L 483.1 657 Q 483.1 658.9 481.2 658.9 L 465 658.9 Q 463.1 658.9 463.1 657 Z" style="fill:#111;stroke:none"/>
<rect x="468.9" y="637.6" width="7.6" height="4.6" rx="1.2" fill="#fff" stroke="none"/>
<ellipse cx="429.5" cy="615.2" rx="10.6" ry="11.6" stroke-width="2.3"/>
<ellipse cx="429.5" cy="615.2" rx="14" ry="15" style="stroke:#999;stroke-width:1.1px" stroke-dasharray="1 2.5"/>
<path d="M 422.0 622.0 C 423.3 620.0, 428.2 611.7, 430.0 610.0 C 431.8 608.3, 433.7 609.7, 433.0 612.0 C 432.3 614.3, 427.2 622.0, 426.0 624.0" stroke-width="1.60"/>
<path d="M 300.0 647.6 C 302.4 647.9, 310.0 649.4, 314.6 649.4 C 319.2 649.4, 323.8 649.1, 327.5 647.6 C 331.2 646.1, 333.6 643.3, 336.6 640.3 C 339.7 637.2, 342.8 632.3, 345.8 629.3 C 348.9 626.2, 350.9 623.7, 354.9 622.0 C 358.9 620.3, 365.0 619.2, 369.6 619.2 C 374.2 619.2, 377.8 620.9, 382.4 622.0 C 387.0 623.1, 393.8 624.2, 397.1 625.6 C 400.5 627.0, 401.6 629.4, 402.5 630.2" stroke-width="3.20"/>
<path d="M 402.5 630.2 C 404.3 629.3, 410.1 625.2, 413.5 624.7 C 416.9 624.2, 420.6 625.5, 422.7 627.5 C 424.8 629.5, 425.7 633.2, 426.3 636.6 C 426.9 640.0, 426.9 644.2, 426.3 647.6 C 425.7 651.0, 424.2 654.3, 422.7 656.8 C 421.2 659.2, 419.0 660.8, 417.2 662.3 C 415.4 663.8, 412.6 665.3, 411.7 665.9" stroke-width="3.20"/>
<path d="M 424.5 644.0 C 426.0 645.2, 430.9 648.9, 433.7 651.3 C 436.4 653.7, 439.6 655.9, 441.0 658.6 C 442.4 661.4, 442.5 665.4, 441.9 667.8 C 441.3 670.2, 439.6 672.0, 437.3 673.2 C 435.0 674.4, 431.2 675.1, 428.2 675.1 C 425.1 675.1, 421.4 674.4, 419.0 673.2 C 416.6 672.0, 414.4 668.7, 413.5 667.8" stroke-width="3.20"/>
<path d="M 409.9 651.3 C 410.2 653.4, 411.1 660.5, 411.7 664.1 C 412.3 667.8, 413.5 670.5, 413.5 673.2 C 413.5 676.0, 412.0 679.4, 411.7 680.6" stroke-width="2.20"/>
<path d="M 356.8 684.2 C 358.0 684.8, 362.0 686.7, 364.1 687.9 C 366.2 689.1, 368.7 691.0, 369.6 691.6" stroke-width="2.20"/>
<path d="M 364.1 691.6 C 363.2 694.0, 360.7 700.7, 358.6 706.2 C 356.5 711.7, 354.7 718.4, 351.3 724.5 C 347.9 730.6, 340.6 739.8, 338.5 742.8" stroke-width="2.20"/>
<path d="M 357.0 622.0 C 359.2 621.5, 365.8 619.3, 370.0 619.0 C 374.2 618.7, 378.3 619.3, 382.0 620.0 C 385.7 620.7, 390.3 622.5, 392.0 623.0" stroke-width="2.20"/>
<path d="M 342.1 742.8 C 344.2 741.0, 349.7 736.1, 354.9 731.8 C 360.1 727.5, 367.1 722.1, 373.2 717.2 C 379.3 712.3, 385.5 707.4, 391.6 702.5 C 397.7 697.6, 405.2 691.1, 409.9 688.0 C 414.6 684.9, 416.3 685.1, 420.0 683.7 C 423.7 682.3, 428.1 680.8, 432.2 679.4 C 436.3 678.0, 440.3 676.4, 444.4 675.1 C 448.5 673.8, 452.3 672.6, 456.6 671.5 C 460.9 670.4, 465.9 669.4, 470.0 668.2 C 474.1 667.0, 477.7 665.9, 481.5 664.4 C 485.3 662.9, 489.5 660.9, 492.9 659.0 C 496.3 657.1, 499.6 655.2, 502.1 652.9 C 504.7 650.6, 506.4 647.8, 508.2 645.3 C 510.0 642.8, 511.6 640.0, 512.8 637.6 C 514.0 635.2, 515.0 633.1, 515.6 631.0 C 516.2 628.9, 516.3 627.4, 516.4 625.1 C 516.5 622.8, 516.3 619.7, 516.0 617.0 C 515.7 614.3, 515.2 611.5, 514.4 608.8 C 513.6 606.1, 512.5 603.4, 511.2 600.7 C 509.9 598.0, 507.2 594.3, 506.3 592.5 C 505.4 590.7, 505.6 590.4, 505.5 590.0" stroke-width="3.20"/>
<path d="M 347.0 743.0 C 349.5 741.1, 357.0 735.3, 362.0 731.5 C 367.0 727.7, 371.2 724.6, 377.0 720.0 C 382.8 715.4, 391.1 708.6, 397.0 704.0 C 402.9 699.4, 408.7 695.0, 412.5 692.5 C 416.3 690.0, 416.7 690.5, 420.0 689.2 C 423.3 687.9, 428.1 686.3, 432.2 684.9 C 436.3 683.5, 440.3 681.9, 444.4 680.6 C 448.5 679.3, 452.3 678.0, 456.6 677.0 C 460.9 676.0, 465.9 675.4, 470.0 674.3 C 474.1 673.2, 477.7 672.0, 481.5 670.5 C 485.3 669.0, 489.1 667.0, 492.9 665.1 C 496.7 663.2, 501.1 661.3, 504.4 659.0 C 507.7 656.7, 510.4 654.2, 512.8 651.4 C 515.2 648.6, 517.2 645.1, 518.9 642.2 C 520.5 639.3, 521.8 636.6, 522.7 633.8 C 523.6 630.9, 524.0 627.9, 524.2 625.1 C 524.5 622.3, 524.3 619.7, 524.2 617.0 C 524.1 614.3, 524.0 611.8, 523.4 608.8 C 522.8 605.8, 521.8 602.1, 520.9 599.1 C 520.0 596.1, 519.1 593.5, 517.7 590.9 C 516.4 588.3, 514.7 585.8, 512.8 583.6 C 510.9 581.4, 507.4 578.9, 506.3 577.9" stroke-width="3.20"/>
<path d="M 352.0 743.0 C 354.3 741.3, 361.3 736.5, 366.0 733.0 C 370.7 729.5, 373.2 726.7, 380.0 722.0 C 386.8 717.3, 399.8 709.5, 406.5 705.0 C 413.2 700.5, 414.7 697.5, 420.0 694.7 C 425.3 691.9, 432.2 690.2, 438.3 688.0 C 444.4 685.8, 451.3 682.7, 456.6 681.3 C 461.9 679.9, 465.2 680.4, 470.0 679.5 C 474.8 678.6, 480.2 677.9, 485.3 675.8 C 490.4 673.7, 496.2 669.9, 500.6 666.7 C 505.1 663.5, 508.8 660.3, 512.0 656.7 C 515.2 653.1, 517.5 648.7, 519.7 645.3 C 521.9 641.9, 524.0 639.5, 525.0 636.1 C 526.0 632.7, 525.5 628.6, 525.8 625.1 C 526.1 621.6, 526.6 618.5, 526.6 615.3 C 526.6 612.0, 526.2 608.6, 525.8 605.6 C 525.4 602.6, 525.2 600.2, 524.2 597.4 C 523.2 594.5, 521.7 591.2, 520.1 588.5 C 518.5 585.8, 516.3 583.2, 514.4 581.2 C 512.5 579.2, 509.6 577.1, 508.7 576.3" stroke-width="1.90" stroke-dasharray="2.6 2.2" stroke="#333"/>
<path d="M 411.7 709.9 C 413.8 709.3, 421.1 706.2, 424.5 706.2 C 427.9 706.2, 430.4 708.7, 431.8 709.9 C 433.2 711.1, 432.6 712.9, 432.8 713.5" stroke-width="2.20"/>
<path d="M 464.7 689.1 C 466.4 689.5, 471.5 691.1, 475.0 691.5 C 478.5 691.9, 482.1 692.1, 485.8 691.7 C 489.5 691.3, 493.5 689.9, 497.0 689.0 C 500.5 688.1, 504.0 687.3, 507.0 686.5 C 510.0 685.7, 512.4 684.5, 515.0 684.2 C 517.6 683.9, 521.6 684.5, 522.9 684.5" stroke-width="2.20"/>
<path d="M 380.0 736.7 C 382.2 735.8, 388.3 733.2, 393.2 731.4 C 398.1 729.6, 406.5 727.0, 409.1 726.1" stroke-width="2.20"/>
<path d="M 103.2 586.9 C 105.3 586.8, 112.9 586.3, 116.1 586.5 C 119.3 586.7, 120.7 587.5, 122.5 588.3 C 124.3 589.1, 124.8 590.5, 127.1 591.5 C 129.4 592.5, 133.1 593.3, 136.2 594.3 C 139.2 595.3, 142.3 596.2, 145.4 597.5 C 148.5 598.8, 151.9 600.6, 154.5 602.1 C 157.1 603.6, 158.9 604.8, 160.9 606.6 C 162.9 608.4, 164.9 611.6, 166.4 613.0 C 167.9 614.4, 165.9 613.6, 170.1 614.9 C 174.3 616.2, 183.8 619.0, 191.7 621.0 C 199.5 623.0, 208.7 624.9, 217.2 627.2 C 225.7 629.5, 236.2 632.8, 242.6 634.9 C 248.9 637.0, 251.1 638.4, 255.3 639.9 C 259.5 641.4, 261.6 642.5, 268.0 643.8 C 274.4 645.1, 288.2 646.9, 293.5 647.6 C 298.8 648.3, 298.9 647.8, 300.0 647.8" stroke-width="3.20"/>
<path d="M 166.8 614.0 C 167.2 615.1, 168.6 617.8, 169.2 620.4 C 169.8 623.0, 170.3 626.5, 170.5 629.5 C 170.7 632.5, 170.5 635.7, 170.1 638.7 C 169.7 641.8, 168.9 645.8, 168.3 647.8 C 167.8 649.8, 167.1 650.0, 166.8 650.5" stroke-width="2.20"/>
<path d="M 171.9 654.5 C 172.1 655.4, 172.6 657.1, 172.8 660.0 C 173.0 662.9, 173.2 667.9, 173.0 672.0 C 172.8 676.1, 172.1 678.1, 171.4 684.4 C 170.7 690.7, 169.8 701.8, 168.8 709.9 C 167.8 718.0, 166.1 729.1, 165.5 733.0" stroke-width="2.20"/>
<path d="M 252.8 638.7 C 254.5 640.8, 260.4 645.9, 262.9 651.4 C 265.4 656.9, 267.1 664.1, 268.0 671.7 C 268.9 679.3, 268.4 689.6, 268.0 697.2 C 267.6 704.8, 267.2 710.7, 265.5 717.5 C 263.8 724.3, 260.9 732.4, 257.9 737.9 C 254.9 743.4, 249.4 748.5, 247.7 750.6" stroke-width="3.20"/>
<path d="M 138.3 765.8 C 143.0 765.4, 157.4 764.1, 166.3 763.3 C 175.2 762.4, 183.2 761.6, 191.7 760.7 C 200.2 759.9, 208.7 759.2, 217.2 758.2 C 225.7 757.2, 234.1 755.5, 242.6 754.4 C 251.1 753.3, 259.8 752.4, 268.0 751.8 C 276.2 751.2, 281.4 751.4, 291.7 750.8 C 302.0 750.2, 320.6 749.4, 329.9 748.3 C 339.2 747.2, 343.5 745.6, 347.7 744.4 C 351.9 743.2, 353.7 741.6, 354.9 741.0" stroke-width="3.20"/>
<path d="M 102.7 765.8 C 104.8 767.1, 110.7 772.6, 115.4 773.5 C 120.1 774.4, 126.4 773.0, 130.7 770.9 C 134.9 768.8, 137.9 765.4, 140.9 760.7 C 143.9 756.0, 146.6 748.4, 148.5 742.9 C 150.4 737.4, 151.7 730.2, 152.3 727.7" stroke-width="3.20"/>
<path d="M 102.0 746.0 L 103.0 742.0" stroke-width="2.20"/>
<path d="M 312.1 773.7 C 317.2 772.9, 333.3 770.4, 342.6 768.6 C 351.9 766.8, 361.8 764.1, 368.0 762.8 C 374.2 761.4, 373.6 761.8, 380.0 760.5 C 386.4 759.2, 397.7 757.4, 406.5 755.2 C 415.3 753.0, 424.1 749.9, 432.9 747.3 C 441.7 744.7, 450.6 742.0, 459.4 739.4 C 468.2 736.8, 479.0 735.2, 485.8 731.4 C 492.6 727.6, 495.9 719.8, 500.0 716.5 C 504.1 713.2, 506.8 713.5, 510.2 711.9 C 513.6 710.3, 517.2 708.8, 520.3 706.8 C 523.3 704.8, 526.1 702.4, 528.5 699.7 C 530.9 697.0, 532.9 693.7, 534.6 690.5 C 536.3 687.3, 537.5 683.7, 538.7 680.3 C 539.9 676.9, 540.7 673.6, 541.7 670.2 C 542.7 666.8, 543.6 664.0, 544.8 660.0 C 546.0 656.0, 547.1 650.3, 549.0 646.0 C 550.9 641.7, 553.4 638.6, 556.1 634.2 C 558.8 629.8, 561.6 624.8, 565.2 619.6 C 568.9 614.4, 575.9 605.9, 578.0 603.1" stroke-width="3.20"/>
<path d="M 234.0 758.0 C 236.0 759.0, 241.7 761.6, 246.0 764.2 C 250.3 766.8, 254.5 770.8, 260.0 773.4 C 265.5 776.0, 271.6 777.8, 279.0 780.0 C 286.4 782.2, 295.9 784.9, 304.4 786.4 C 312.9 787.9, 321.4 788.8, 329.9 789.0 C 338.4 789.2, 346.9 788.8, 355.3 787.7 C 363.7 786.6, 370.3 784.7, 380.5 782.5 C 390.7 780.3, 404.5 776.5, 416.6 774.4 C 428.7 772.3, 442.5 771.0, 453.2 769.9 C 463.9 768.8, 473.7 768.8, 480.7 768.0 C 487.7 767.2, 492.5 766.2, 495.4 765.0 C 498.3 763.8, 497.2 762.6, 498.0 761.0 C 498.8 759.4, 499.0 757.8, 500.0 755.6 C 501.0 753.4, 502.6 750.4, 504.0 748.0 C 505.4 745.6, 506.2 744.2, 508.1 741.4 C 510.0 738.6, 512.4 734.8, 515.3 731.2 C 518.2 727.6, 521.2 723.7, 525.4 720.0 C 529.6 716.3, 535.6 712.3, 540.7 708.8 C 545.8 705.2, 551.8 701.8, 556.0 698.7 C 560.2 695.7, 563.2 692.7, 566.1 690.5 C 569.0 688.3, 571.6 686.5, 573.2 685.4 C 574.9 684.3, 575.5 684.2, 576.0 684.0" stroke-width="3.20"/>
<path d="M 512.2 734.3 C 513.6 732.1, 517.2 725.2, 520.3 721.0 C 523.3 716.8, 526.8 713.4, 530.5 708.8 C 534.2 704.2, 539.0 698.5, 542.7 693.6 C 546.4 688.7, 551.2 681.7, 552.9 679.3" stroke-width="2.20"/>
<path d="M 517.0 727.5 C 519.2 725.8, 525.7 721.1, 530.5 717.5 C 535.3 713.9, 540.7 709.6, 545.8 706.0 C 550.9 702.4, 556.7 698.8, 561.0 695.6 C 565.3 692.4, 569.8 688.4, 571.5 687.0" stroke-width="1.40"/>
<path d="M 502.3 573.8 C 505.6 573.2, 516.0 571.1, 522.4 570.2 C 528.8 569.3, 534.6 568.8, 540.7 568.3 C 546.8 567.8, 553.4 567.7, 559.0 567.4 C 564.6 567.1, 570.0 566.6, 574.6 566.5 C 579.2 566.4, 582.0 565.9, 586.5 566.5 C 591.0 567.1, 596.8 567.7, 601.8 570.1 C 606.8 572.5, 612.8 576.8, 616.5 581.1 C 620.2 585.4, 622.0 590.3, 623.8 595.8 C 625.6 601.3, 626.6 608.0, 627.5 614.1 C 628.4 620.2, 628.7 626.6, 629.3 632.4 C 629.9 638.2, 630.8 646.1, 631.1 648.9" stroke-width="3.20"/>
<path d="M 574.5 568.0 C 575.4 569.0, 578.4 572.0, 580.0 574.0 C 581.6 576.0, 582.7 577.0, 583.9 579.7 C 585.1 582.4, 586.2 587.0, 587.0 590.0 C 587.8 593.0, 588.2 595.0, 588.5 598.0 C 588.8 601.0, 588.8 605.0, 588.8 608.0 C 588.8 611.0, 588.8 613.5, 588.5 616.3 C 588.2 619.1, 587.5 622.5, 587.0 625.0 C 586.5 627.5, 586.2 629.4, 585.5 631.6 C 584.8 633.8, 583.8 636.0, 583.0 638.0 C 582.2 640.0, 581.2 642.8, 580.9 643.8" stroke-width="3.20"/>
<path d="M 585.5 570.5 C 587.0 571.8, 592.3 574.3, 594.6 578.1 C 596.9 581.9, 598.1 588.3, 599.2 593.4 C 600.4 598.5, 601.0 603.6, 601.5 608.7 C 602.0 613.8, 602.2 619.1, 602.2 623.9 C 602.2 628.7, 601.6 635.4, 601.5 637.7" stroke-width="3.20"/>
<path d="M 594.6 573.6 C 595.6 575.6, 599.2 581.2, 600.7 585.8 C 602.2 590.4, 603.0 595.9, 603.8 601.0 C 604.6 606.1, 605.0 611.2, 605.3 616.3 C 605.5 621.4, 605.3 629.0, 605.3 631.6" stroke-width="2.20"/>
<path d="M 600.8 639.4 Q 602.7 635.9 606.2 637.8 L 633.0 651.9 Q 636.5 653.8 634.5 657.3 L 608.5 701.5 Q 606.5 705.0 603.1 702.8 L 580.0 687.9 Q 576.6 685.7 578.5 682.2 Z" stroke-width="3.20"/>
<path d="M 605.6 645.6 Q 607.5 642.7 610.5 644.5 L 625.8 653.9 Q 628.8 655.7 627.0 658.7 L 605.4 696.2 Q 603.6 699.2 600.8 697.0 L 584.2 684.0 Q 581.4 681.8 583.3 678.9 Z" stroke-width="2.20"/>
<path d="M 588.0 667.0 C 589.0 665.3, 592.0 660.0, 594.0 657.0 C 596.0 654.0, 599.0 650.3, 600.0 649.0" stroke-width="1.60"/>
<path d="M 591.0 670.0 C 592.0 668.3, 595.0 663.0, 597.0 660.0 C 599.0 657.0, 602.0 653.3, 603.0 652.0" stroke-width="1.60"/>
<path d="M 576.0 690.0 C 575.5 690.5, 576.3 691.0, 573.3 692.7 C 570.3 694.4, 563.1 697.3, 558.0 700.3 C 552.9 703.3, 547.9 707.1, 542.8 710.5 C 537.7 713.9, 531.8 718.2, 527.5 720.7 C 523.2 723.2, 519.0 724.9, 517.3 725.8" stroke-width="3.20"/>
<path d="M 604.0 702.0 C 603.5 702.5, 604.0 702.3, 601.1 704.9 C 598.2 707.5, 591.4 713.5, 586.5 717.8 C 581.6 722.1, 576.7 726.0, 571.8 730.6 C 566.9 735.2, 561.5 740.8, 557.2 745.2 C 552.9 749.6, 549.9 753.2, 546.2 757.0 C 542.5 760.8, 538.2 764.7, 535.0 768.0 C 531.8 771.3, 529.5 774.3, 527.0 777.0 C 524.5 779.7, 522.2 782.0, 520.0 784.4 C 517.8 786.8, 516.7 788.5, 513.6 791.5 C 510.5 794.5, 506.0 799.0, 501.4 802.7 C 496.8 806.4, 491.2 810.5, 486.1 813.9 C 481.0 817.3, 476.0 820.2, 470.9 823.1 C 465.8 826.0, 460.7 828.8, 455.6 831.2 C 450.5 833.6, 445.2 835.6, 440.3 837.3 C 435.4 839.0, 430.3 840.9, 426.1 841.4 C 421.9 841.9, 418.8 841.2, 415.0 840.5 C 411.2 839.8, 405.3 837.7, 403.4 837.1" stroke-width="3.20"/>
<path d="M 581.7 643.4 C 580.5 645.2, 576.9 649.8, 574.4 654.4 C 571.9 659.0, 568.8 666.3, 567.0 670.9 C 565.2 675.5, 564.3 678.8, 563.4 681.8 C 562.5 684.8, 561.9 688.0, 561.6 689.2" stroke-width="2.20"/>
<path d="M 484.6 609.5 C 485.5 609.6, 487.1 609.7, 490.0 610.4 C 492.9 611.1, 497.9 612.5, 502.2 613.7 C 506.5 614.9, 513.7 617.1, 516.0 617.8" stroke-width="3.20"/>
<path d="M 512.0 576.3 C 513.1 577.4, 516.5 580.4, 518.5 582.8 C 520.5 585.2, 522.7 587.9, 524.2 590.9 C 525.7 593.9, 526.5 597.0, 527.4 600.7 C 528.3 604.4, 529.3 608.8, 529.9 612.9 C 530.5 617.0, 530.6 619.7, 530.7 625.1 C 530.8 630.5, 530.7 639.4, 530.4 645.3 C 530.1 651.2, 529.6 656.0, 528.8 660.6 C 528.0 665.2, 526.3 670.8, 525.8 672.8" stroke-width="3.20"/>
<path d="M 484.0 615.0 C 485.0 615.2, 487.0 615.5, 490.0 616.3 C 493.0 617.0, 498.1 618.6, 502.2 619.5 C 506.3 620.4, 512.4 621.2, 514.4 621.5" stroke-width="1.60" stroke-dasharray="2.6 2.2" stroke="#333"/>
<path d="M 544.8 757.0 C 544.0 759.2, 542.0 765.0, 540.0 770.0 C 538.0 775.0, 535.7 781.2, 533.0 787.0 C 530.3 792.8, 527.5 798.7, 524.0 805.0 C 520.5 811.3, 516.0 818.4, 512.0 825.0 C 508.0 831.6, 503.7 838.9, 500.0 844.9 C 496.3 850.9, 493.6 855.3, 489.9 860.8 C 486.2 866.3, 481.8 872.5, 477.7 877.8 C 473.6 883.1, 469.5 887.8, 465.4 892.5 C 461.3 897.2, 457.3 901.6, 453.2 905.9 C 449.1 910.2, 444.4 915.0, 441.0 918.1 C 437.6 921.2, 435.6 922.2, 432.5 924.2 C 429.4 926.2, 425.3 928.3, 422.7 930.3 C 420.1 932.3, 419.0 933.9, 416.6 936.4 C 414.2 938.9, 411.2 943.2, 408.1 945.0 C 405.1 946.8, 402.0 947.2, 398.3 947.4 C 394.6 947.6, 389.2 947.0, 386.1 946.2 C 383.1 945.4, 381.0 943.1, 380.0 942.5" stroke-width="3.20"/>
<path d="M 387.0 913.5 C 388.9 914.7, 394.4 918.6, 398.3 920.6 C 402.2 922.6, 406.4 924.5, 410.5 925.5 C 414.6 926.5, 418.6 926.9, 422.7 926.7 C 426.8 926.5, 432.9 924.6, 434.9 924.2" stroke-width="2.20"/>
<path d="M 390.0 918.0 C 392.5 919.2, 400.0 923.7, 405.0 925.5 C 410.0 927.3, 417.5 928.4, 420.0 929.0" stroke-width="1.30" stroke-dasharray="2.6 2.2" stroke="#333"/>
<path d="M 241.8 811.0 C 242.8 812.7, 245.5 817.0, 247.9 821.2 C 250.3 825.5, 253.3 831.7, 256.0 836.5 C 258.7 841.3, 260.4 844.8, 264.2 850.0 C 268.0 855.2, 273.1 862.7, 279.0 867.8 C 284.9 872.9, 292.2 876.3, 299.4 880.5 C 306.6 884.7, 315.1 889.8, 322.2 893.2 C 329.3 896.6, 338.7 899.7, 342.0 901.0" stroke-width="3.20"/>
<path d="M 259.1 774.4 C 259.3 775.4, 259.9 776.1, 260.1 780.5 C 260.3 784.9, 259.9 794.1, 260.1 800.9 C 260.3 807.7, 260.1 814.8, 261.1 821.2 C 262.1 827.6, 265.4 836.5, 266.2 839.5" stroke-width="2.20"/>
<path d="M 209.1 794 L 219.2 780.5 Q 222.5 776.5 226.5 778.5 L 231.5 782 L 243 800.5 Q 244 805 241.5 809.5 L 233.2 822 Q 229.5 826 225 823 L 221 819.5 L 209.1 801.7 Q 207.5 797.5 209.1 794 Z" stroke-width="3"/>
<path d="M 214.2 795 L 221.8 785.5 L 235.8 804.2 L 228.1 816.5 Z" stroke-width="2"/>
<path d="M 208.2 761.2 C 207.8 763.4, 205.3 770.2, 205.7 774.4 C 206.0 778.6, 209.5 784.6, 210.3 786.6" stroke-width="3.20"/>
<path d="M 212.3 761.2 C 213.2 762.9, 216.1 769.2, 217.4 771.4 C 218.8 773.6, 219.9 773.9, 220.4 774.4" stroke-width="3.20"/>
<path d="M 235.7 762.2 C 234.7 763.2, 231.3 766.3, 229.6 768.3 C 227.9 770.3, 226.2 773.4, 225.5 774.4" stroke-width="3.20"/>
<path d="M 223.5 826.3 C 224.0 827.3, 225.3 830.7, 226.5 832.4 C 227.7 834.1, 229.7 837.0, 230.6 836.5 C 231.5 836.0, 231.8 831.5, 232.1 829.3 C 232.4 827.1, 232.5 824.2, 232.6 823.2" stroke-width="3.20"/>
<path d="M 241.8 802.9 C 243.2 800.4, 247.1 792.8, 250.0 788.0 C 252.9 783.2, 257.6 776.7, 259.1 774.4" stroke-width="3.20"/>
<path d="M 221 790 a 2 2 0 1 0 1 3" stroke-width="1.4"/>
<path d="M 348.5 831.0 C 348.8 830.3, 346.8 828.5, 350.5 827.0 C 354.2 825.5, 364.1 822.9, 370.9 821.9 C 377.7 820.9, 385.4 820.7, 391.2 820.9 C 397.0 821.1, 402.1 821.9, 405.5 822.9 C 408.9 823.9, 410.6 826.3, 411.6 827.0" stroke-width="3.20"/>
<path d="M 368.8 831.0 C 368.1 834.4, 366.3 844.6, 364.8 851.4 C 363.3 858.2, 361.2 865.3, 359.7 871.7 C 358.1 878.1, 356.2 887.0, 355.5 890.0" stroke-width="3.20"/>
<path d="M 401.4 831.0 C 400.4 834.4, 397.2 844.6, 395.3 851.4 C 393.4 858.2, 391.5 865.3, 390.2 871.7 C 388.9 878.1, 387.9 887.0, 387.5 890.0" stroke-width="3.20"/>
<path d="M 344 889.8 L 383.1 889 Q 388.2 889.5 388.2 895 L 387.1 933 Q 386.5 938.9 381 938.9 L 345 937 Q 340.3 936.5 340.3 931 L 340.3 895 Q 340.5 890 344 889.8 Z" stroke-width="3.2"/>
<path d="M 348.5 894.1 L 381 894.1 L 382.1 930.7 L 348.5 930.7 Z" stroke-width="2.1"/>
<path d="M 363.7 892.1 C 363.7 894.5, 363.2 903.6, 363.7 906.3 C 364.2 909.0, 366.3 908.0, 366.8 908.3" stroke-width="2.20"/>
<circle cx="362.7" cy="926.7" r="1" fill="#111" stroke="none"/>
<circle cx="383.3" cy="838.5" r="1.1" style="fill:#111" stroke="none"/><circle cx="375.7" cy="856.3" r="1.1" style="fill:#111" stroke="none"/><circle cx="369.3" cy="878" r="1.2" style="fill:#111" stroke="none"/>
<path d="M 346.4 938.9 C 345.9 941.3, 343.7 948.7, 343.4 953.1 C 343.1 957.5, 343.3 962.2, 344.4 965.3 C 345.5 968.4, 346.4 970.5, 350.0 971.5 C 353.6 972.5, 362.2 972.5, 366.0 971.5 C 369.8 970.5, 371.6 968.4, 372.9 965.3 C 374.2 962.2, 373.6 957.5, 373.9 953.1 C 374.2 948.7, 374.7 941.3, 374.9 938.9" stroke-width="3.20"/>
<path d="M 320.0 890.0 C 322.0 891.0, 328.8 894.5, 332.2 896.1 C 335.6 897.7, 339.1 898.9, 340.5 899.5" stroke-width="3.20"/>
<path d="M 326.0 793.0 C 328.4 794.2, 334.5 798.2, 340.3 800.5 C 346.1 802.8, 353.9 805.4, 360.7 806.6 C 367.5 807.8, 374.2 807.9, 381.0 807.6 C 387.8 807.3, 395.3 805.8, 401.4 804.6 C 407.5 803.4, 415.0 801.2, 417.7 800.5" stroke-width="1.40" stroke-dasharray="2.6 2.2" stroke="#333"/>
<path d="M 330.0 797.0 C 335.1 798.9, 352.2 806.5, 360.7 808.6 C 369.2 810.7, 372.5 810.2, 381.0 809.7 C 389.5 809.2, 406.5 806.3, 411.6 805.6" stroke-width="1.40" stroke-dasharray="2.6 2.2" stroke="#333"/>
<path d="M 438.3 807.8 C 440.3 806.4, 446.4 802.6, 450.5 799.7 C 454.6 796.8, 458.4 793.7, 462.7 790.5 C 466.9 787.3, 472.1 783.3, 476.0 780.3 C 479.9 777.2, 483.6 774.1, 486.1 772.2 C 488.6 770.4, 490.4 769.7, 491.2 769.2" stroke-width="2.20"/>
<path d="M 443.4 802.7 C 445.4 801.2, 451.4 796.8, 455.6 793.6 C 459.8 790.4, 465.2 786.3, 468.8 783.4 C 472.4 780.5, 474.6 778.3, 477.0 776.3 C 479.4 774.3, 482.1 772.1, 483.1 771.2" stroke-width="2.20"/>
<path d="M 437.0 789.0 C 437.7 787.9, 439.5 784.2, 441.0 782.5 C 442.5 780.8, 444.2 779.7, 446.0 779.0 C 447.8 778.3, 450.5 778.2, 452.0 778.5 C 453.5 778.8, 455.0 779.8, 455.0 781.0 C 455.0 782.2, 453.5 784.5, 452.0 786.0 C 450.5 787.5, 448.0 788.8, 446.0 790.0 C 444.0 791.2, 441.0 792.5, 440.0 793.0" stroke-width="2.20"/>
<path d="M 441.0 786.0 C 441.8 785.5, 444.5 783.5, 446.0 783.0 C 447.5 782.5, 449.3 783.0, 450.0 783.0" stroke-width="2.20"/>
<path d="M 420.0 793.6 C 420.9 793.1, 423.4 790.7, 425.1 790.5 C 426.8 790.3, 429.5 791.2, 430.2 792.6 C 430.9 794.0, 430.6 797.0, 429.2 798.7 C 427.8 800.4, 423.7 802.5, 422.0 802.7 C 420.3 802.9, 419.5 800.5, 419.0 800.0" stroke-width="2.20"/>
<path d="M 426.1 814.9 C 427.3 813.2, 430.8 808.2, 433.2 804.8 C 435.6 801.4, 438.3 797.3, 440.3 794.6 C 442.3 791.9, 444.5 789.5, 445.4 788.5" stroke-width="2.20"/>
<path d="M 430.2 817.0 C 431.4 815.3, 434.9 810.0, 437.3 806.8 C 439.7 803.6, 442.5 800.3, 444.4 797.6 C 446.3 794.9, 447.8 791.7, 448.5 790.5" stroke-width="2.20"/>
<path d="M 419.5 804.0 C 419.6 806.0, 419.8 811.5, 420.0 816.0 C 420.2 820.5, 420.4 825.1, 420.5 831.0 C 420.6 836.9, 420.1 846.0, 420.3 851.4 C 420.5 856.8, 420.7 862.1, 421.5 863.2 C 422.3 864.4, 424.5 862.2, 425.2 858.3 C 425.9 854.4, 425.6 846.0, 425.5 840.0 C 425.4 834.0, 425.0 827.0, 424.5 822.0 C 424.0 817.0, 422.8 812.0, 422.5 810.0" stroke-width="2.20"/>
<g opacity="0.7"><text x="871" y="76" font-family="Liberation Mono" font-weight="bold" font-size="57" fill="#bdbdbd" style="stroke:#bdbdbd;stroke-width:1.8px" textLength="131" lengthAdjust="spacingAndGlyphs">UN1T</text></g>
<g opacity="0.65"><text x="911" y="100" font-family="Liberation Sans" font-size="18" fill="#c0c0c0" textLength="82" lengthAdjust="spacingAndGlyphs">GARAGE</text></g>
<circle cx="1008" cy="41" r="2.6" style="fill:none;stroke:#ddd;stroke-width:0.8px"/>
</svg>
<div class="lbl" style="left:370px;top:231px;">CONNECT</div>
<div class="lbl" style="left:594px;top:750px;">LOCK</div>
</body></html>
